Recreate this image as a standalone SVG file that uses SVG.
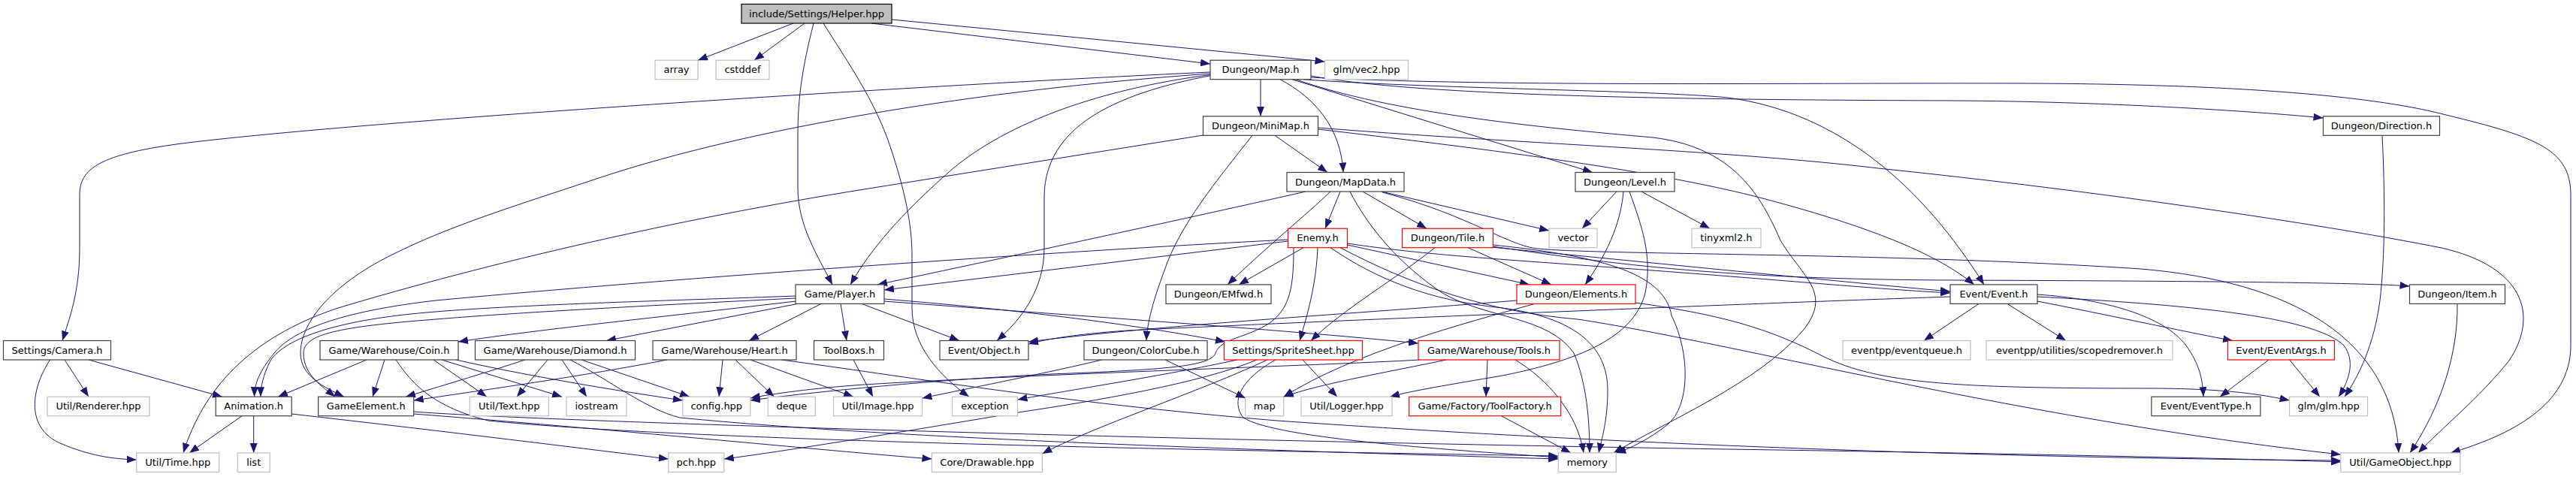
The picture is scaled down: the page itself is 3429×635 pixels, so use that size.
<svg xmlns="http://www.w3.org/2000/svg" width="3429" height="635" viewBox="0 0 3429 635">
<defs>
<marker id="a" viewBox="0 0 13 10" refX="13" refY="5" markerWidth="13" markerHeight="10" markerUnits="userSpaceOnUse" orient="auto"><path d="M0,0L13,5L0,10z" fill="#191970"/></marker>
<style>
.d rect{fill:#fff;stroke:#404040;stroke-width:1.2}
.x rect{fill:#fff;stroke:#bfbfbf;stroke-width:1.2}
.r rect{fill:#fff;stroke:#ff0000;stroke-width:1.2}
.h rect{fill:#bfbfbf;stroke:#000;stroke-width:1.2}
text{font-family:"DejaVu Sans","Liberation Sans",sans-serif;font-size:13px;text-anchor:middle;fill:#000}
#edges path{fill:none;stroke:#191970;stroke-width:1;marker-end:url(#a)}
</style>
</defs>
<rect width="3429" height="635" fill="#fff"/>
<g id="edges">
<path d="M1056,31 L929,80.2"/>
<path d="M1071,31 L1004,80.2"/>
<path d="M1160,31 L1611,85"/>
<path d="M1187,26 L1763.5,82"/>
<path d="M1083,31 C1068,90 1062,130 1062,180 L1062,250 C1062,300 1088,340 1108,378.9"/>
<path d="M1096,31 C1130,85 1165,135 1185,195 C1205,255 1214,300 1214,340 L1214,410 C1214,460 1250,500 1290,528.2"/>
<path d="M1611,96 C1200,115 500,160 250,190 C130,205 106,225 106,260 L106,330 C106,390 92,425 83,453.5"/>
<path d="M1611,98 C1300,120 1000,170 800,236 C680,276 600,300 520,340 C440,380 400,430 400,470 C400,500 430,515 458,528.2"/>
<path d="M1615,99 C1450,120 1330,170 1262,230 C1200,285 1160,330 1132,378.9"/>
<path d="M1615,100 C1480,125 1392,170 1390,260 L1390,330 C1390,385 1360,425 1327,453.5"/>
<path d="M1678,105.7 L1678,154.8"/>
<path d="M1704,105.7 C1750,130 1785,170 1788,229.5"/>
<path d="M1720,105.7 L2120,229.5"/>
<path d="M1735,105.7 C1900,118 2200,120 2300,130 C2450,150 2560,250 2641,378.9"/>
<path d="M1745,101 C1900,130 2300,133 2600,134 C2800,135 3000,148 3092.5,157"/>
<path d="M1745,103 C2000,116 2400,110 2700,111 C2950,112 3150,125 3256,153 C3380,183 3422,200 3422,260 L3422,460 C3422,540 3340,580 3262,602.9"/>
<path d="M1725,105.7 C1850,150 2050,170 2200,183 C2300,195 2340,250 2370,320 C2400,370 2440,390 2400,440 C2340,510 2220,560 2148,602.9"/>
<path d="M1601.5,180 L1150,252 C900,292 650,350 450,410 C330,450 270,520 244,602.9"/>
<path d="M1667,180.3 C1620,240 1570,300 1550,360 C1535,400 1527,430 1526,453.5"/>
<path d="M1697,180.3 L1767,229.5"/>
<path d="M1754.5,172 C1950,195 2200,225 2350,265 C2500,305 2580,340 2628,378.9"/>
<path d="M1754.5,170 C2000,190 2300,200 2500,224 C2800,255 3100,300 3250,330 C3360,355 3380,420 3340,480 C3300,530 3250,570 3219,602.9"/>
<path d="M3171,180.3 C3175,260 3175,340 3168,400 C3160,460 3140,500 3121,528.2"/>
<path d="M1738,255 C1650,275 1400,330 1168,378.9"/>
<path d="M1771,255 C1740,285 1690,325 1634,378.9"/>
<path d="M1784,255 L1764,304.2"/>
<path d="M1797,255 C1820,300 1860,350 1920,390 C1980,425 2060,420 2095,470 C2112,510 2116,560 2116,602.9"/>
<path d="M1814,255 L1899,304.2"/>
<path d="M1839,255 L2062,307"/>
<path d="M1840,256 C1950,285 2000,322 2040,330 C2100,340 2500,335 2850,358 C3050,375 3185,450 3193,602.9"/>
<path d="M2152,255 L2106,304.2"/>
<path d="M2161,255 C2158,290 2145,330 2110,378.9"/>
<path d="M2169,255 C2185,300 2200,340 2190,390 C2175,450 2100,480 2000,500 C1930,512 1880,520 1850,528.2"/>
<path d="M2185,255 L2276,304.2"/>
<path d="M1714.5,321 L1177,386"/>
<path d="M1714.5,319 C1400,335 900,370 580,400 C450,415 390,440 365,470 C345,495 339,510 338.5,528.2"/>
<path d="M1735,329.7 L1649,378.9"/>
<path d="M1793.5,324 C1900,340 2000,345 2200,360 C2400,375 2500,385 2596,390"/>
<path d="M1784,329.7 C1880,380 1980,415 2100,425 C2300,455 2700,560 3115.8,605"/>
<path d="M1793.5,326 L2036,378.9"/>
<path d="M1754,329.7 C1752,380 1740,420 1730,453.5"/>
<path d="M1771,329.7 C1830,370 1900,400 2000,410 C2110,425 2140,470 2140,520 C2140,560 2132,585 2128,602.9"/>
<path d="M1722,329.7 C1722,380 1718,410 1690,430 C1660,450 1625,450 1618,470 C1612,488 1550,492 1400,498 C1250,505 1080,522 998.8,533"/>
<path d="M1910,329.7 C1860,370 1790,410 1745,453.5"/>
<path d="M1954,329.7 L2065,378.9"/>
<path d="M1985,329 C2150,345 2450,375 2596,388"/>
<path d="M1987,328 C2150,352 2300,372 2600,373 C2900,374 3150,376 3207.5,381"/>
<path d="M1987.5,326 C2120,340 2215,360 2225,420 C2250,470 2250,540 2220,565 C2195,585 2170,597 2151.3,603"/>
<path d="M1059,401 C900,420 720,438 610,455"/>
<path d="M1062,404.4 L807,453.5"/>
<path d="M1093,404.4 L997,453.5"/>
<path d="M1119,404.4 L1127,453.5"/>
<path d="M1059,394 C900,400 700,405 580,415 C450,425 380,450 360,480 C350,500 347,515 347,528.2"/>
<path d="M1059,397 C900,405 700,415 580,425 C450,435 404,445 404,470 C404,500 430,515 446,528.2"/>
<path d="M1147,404.4 L1277,453.5"/>
<path d="M1177,398 C1350,412 1500,430 1631,455"/>
<path d="M1177,401 C1400,418 1700,438 1888,457"/>
<path d="M86,479 L118,528.2"/>
<path d="M118,479 L296,528.2"/>
<path d="M66.6,479 C40,520 35,570 80,590 C120,607 150,611 181.7,612"/>
<path d="M322,553.7 L252,602.9"/>
<path d="M337.7,553.7 L337.7,602.9"/>
<path d="M388,551 C600,575 800,600 889.8,611"/>
<path d="M488,479 L370,528.2"/>
<path d="M512,479 L496,528.2"/>
<path d="M577,479 L648,528.2"/>
<path d="M588,479 L748,528.2"/>
<path d="M607,479 C700,500 820,520 908.8,533"/>
<path d="M527,479 C545,505 570,540 650,560 C900,585 1500,598 2074.3,607"/>
<path d="M699,479 C650,495 600,510 540,528.2"/>
<path d="M729,479 L688,528.2"/>
<path d="M748,479 L781,528.2"/>
<path d="M774,479 L918,528.2"/>
<path d="M759,479 C810,505 860,545 905,556 C1200,585 1700,600 2074.3,611"/>
<path d="M888,479 C780,500 640,520 550.7,533"/>
<path d="M962,479 L957,528.2"/>
<path d="M979,479 L1030.5,528.2"/>
<path d="M999,479 L1136,528.2"/>
<path d="M1040,479 C1200,500 1400,535 1700,560 C2200,595 2700,610 3115.8,613"/>
<path d="M1136,479 L1162,528.2"/>
<path d="M1467,479 C1400,495 1300,515 1227.5,530"/>
<path d="M1551,479 L1658,530"/>
<path d="M1647,479 C1550,500 1420,520 1354.5,532"/>
<path d="M1673,479 C1600,510 1450,535 1362,548 C1200,575 1050,600 963.8,611"/>
<path d="M1687,479 C1600,520 1450,570 1387.4,604"/>
<path d="M1698,479 C1660,500 1635,530 1655,556 C1700,585 1950,600 2074.3,609"/>
<path d="M1734,479 L1780,528.2"/>
<path d="M1890,479 C1750,487 1400,497 1150,512 C1080,517 1030,524 998.8,530"/>
<path d="M1925,479 C1850,495 1760,510 1708.7,528.2"/>
<path d="M1980,479 L1978,528.2"/>
<path d="M2017,479 C2060,505 2100,550 2108,602.9"/>
<path d="M2043,404.4 C1950,430 1800,470 1708.7,528.2"/>
<path d="M2019,400 C1800,418 1550,432 1369,455"/>
<path d="M2177,403 C2300,420 2360,440 2428,475 C2500,510 2600,517 2860,517 C2960,517 3010,525 3047.6,533"/>
<path d="M2634,404.4 L2561,453.5"/>
<path d="M2672,404.4 L2750,453.5"/>
<path d="M2712,392 C2800,398 2880,420 2910,460 C2928,485 2932,505 2933,528.2"/>
<path d="M2712,395 C2900,405 3080,420 3120,460 C3135,480 3128,505 3113,528.2"/>
<path d="M2712,401 C2800,418 2900,440 2972,453.5"/>
<path d="M2596,395 C2300,405 1700,430 1500,440 C1430,445 1390,452 1369,458"/>
<path d="M3020,479 L2955,528.2"/>
<path d="M3047.6,479 L3088,528.2"/>
<path d="M3271,404.4 C3272,470 3250,540 3208,602.9"/>
<path d="M1998.5,553.7 L2091,602.9"/>
<path d="M550.7,548 C700,560 1500,585 2300,598 C2700,604 3000,611 3115.8,615"/>
<path d="M550.7,551 C800,570 1100,600 1240.4,611"/>
</g>
<g id="n0" class="h"><rect x="987" y="5.5" width="200" height="25.5"/><text x="1087" y="22.5">include/Settings/Helper.hpp</text></g>
<g id="n1" class="x"><rect x="872" y="80.2" width="57" height="25.5"/><text x="900.5" y="97.2">array</text></g>
<g id="n2" class="x"><rect x="953" y="80.2" width="71" height="25.5"/><text x="988.5" y="97.2">cstddef</text></g>
<g id="n3" class="d"><rect x="1611" y="80.2" width="134" height="25.5"/><text x="1678" y="97.2">Dungeon/Map.h</text></g>
<g id="n4" class="x"><rect x="1763.5" y="80.2" width="111" height="25.5"/><text x="1819" y="97.2">glm/vec2.hpp</text></g>
<g id="n5" class="d"><rect x="1601.5" y="154.8" width="153" height="25.5"/><text x="1678" y="171.8">Dungeon/MiniMap.h</text></g>
<g id="n6" class="d"><rect x="3092.5" y="154.8" width="155" height="25.5"/><text x="3170" y="171.8">Dungeon/Direction.h</text></g>
<g id="n7" class="d"><rect x="1713" y="229.5" width="156" height="25.5"/><text x="1791" y="246.5">Dungeon/MapData.h</text></g>
<g id="n8" class="d"><rect x="2097" y="229.5" width="132" height="25.5"/><text x="2163" y="246.5">Dungeon/Level.h</text></g>
<g id="n9" class="r"><rect x="1714.5" y="304.2" width="79" height="25.5"/><text x="1754" y="321.2">Enemy.h</text></g>
<g id="n10" class="r"><rect x="1866.5" y="304.2" width="121" height="25.5"/><text x="1927" y="321.2">Dungeon/Tile.h</text></g>
<g id="n11" class="x"><rect x="2062" y="304.2" width="64" height="25.5"/><text x="2094" y="321.2">vector</text></g>
<g id="n12" class="x"><rect x="2252" y="304.2" width="92" height="25.5"/><text x="2298" y="321.2">tinyxml2.h</text></g>
<g id="n13" class="d"><rect x="1059" y="378.9" width="118" height="25.5"/><text x="1118" y="395.9">Game/Player.h</text></g>
<g id="n14" class="d"><rect x="1552" y="378.9" width="140" height="25.5"/><text x="1622" y="395.9">Dungeon/EMfwd.h</text></g>
<g id="n15" class="r"><rect x="2019" y="378.9" width="158" height="25.5"/><text x="2098" y="395.9">Dungeon/Elements.h</text></g>
<g id="n16" class="d"><rect x="2596" y="378.9" width="116" height="25.5"/><text x="2654" y="395.9">Event/Event.h</text></g>
<g id="n17" class="d"><rect x="3207.5" y="378.9" width="127" height="25.5"/><text x="3271" y="395.9">Dungeon/Item.h</text></g>
<g id="n18" class="d"><rect x="4.5" y="453.5" width="143" height="25.5"/><text x="76" y="470.5">Settings/Camera.h</text></g>
<g id="n19" class="d"><rect x="426" y="453.5" width="184" height="25.5"/><text x="518" y="470.5">Game/Warehouse/Coin.h</text></g>
<g id="n20" class="d"><rect x="632.5" y="453.5" width="213" height="25.5"/><text x="739" y="470.5">Game/Warehouse/Diamond.h</text></g>
<g id="n21" class="d"><rect x="869" y="453.5" width="191" height="25.5"/><text x="964.5" y="470.5">Game/Warehouse/Heart.h</text></g>
<g id="n22" class="d"><rect x="1083.5" y="453.5" width="93" height="25.5"/><text x="1130" y="470.5">ToolBoxs.h</text></g>
<g id="n23" class="d"><rect x="1251" y="453.5" width="118" height="25.5"/><text x="1310" y="470.5">Event/Object.h</text></g>
<g id="n24" class="d"><rect x="1443" y="453.5" width="164" height="25.5"/><text x="1525" y="470.5">Dungeon/ColorCube.h</text></g>
<g id="n25" class="r"><rect x="1629.5" y="453.5" width="184" height="25.5"/><text x="1721.5" y="470.5">Settings/SpriteSheet.hpp</text></g>
<g id="n26" class="r"><rect x="1888" y="453.5" width="188" height="25.5"/><text x="1982" y="470.5">Game/Warehouse/Tools.h</text></g>
<g id="n27" class="x"><rect x="2453" y="453.5" width="170" height="25.5"/><text x="2538" y="470.5">eventpp/eventqueue.h</text></g>
<g id="n28" class="x"><rect x="2644" y="453.5" width="248" height="25.5"/><text x="2768" y="470.5">eventpp/utilities/scopedremover.h</text></g>
<g id="n29" class="r"><rect x="2965.5" y="453.5" width="142" height="25.5"/><text x="3036.5" y="470.5">Event/EventArgs.h</text></g>
<g id="n30" class="x"><rect x="63" y="528.2" width="136" height="25.5"/><text x="131" y="545.2">Util/Renderer.hpp</text></g>
<g id="n31" class="d"><rect x="287.2" y="528.2" width="101" height="25.5"/><text x="337.7" y="545.2">Animation.h</text></g>
<g id="n32" class="d"><rect x="423.7" y="528.2" width="127" height="25.5"/><text x="487.2" y="545.2">GameElement.h</text></g>
<g id="n33" class="x"><rect x="625.3" y="528.2" width="105" height="25.5"/><text x="677.8" y="545.2">Util/Text.hpp</text></g>
<g id="n34" class="x"><rect x="754" y="528.2" width="80" height="25.5"/><text x="794" y="545.2">iostream</text></g>
<g id="n35" class="x"><rect x="908.8" y="528.2" width="90" height="25.5"/><text x="953.8" y="545.2">config.hpp</text></g>
<g id="n36" class="x"><rect x="1022.3" y="528.2" width="63" height="25.5"/><text x="1053.8" y="545.2">deque</text></g>
<g id="n37" class="x"><rect x="1109.5" y="528.2" width="118" height="25.5"/><text x="1168.5" y="545.2">Util/Image.hpp</text></g>
<g id="n38" class="x"><rect x="1267.5" y="528.2" width="87" height="25.5"/><text x="1311" y="545.2">exception</text></g>
<g id="n39" class="x"><rect x="1657.7" y="528.2" width="51" height="25.5"/><text x="1683.2" y="545.2">map</text></g>
<g id="n40" class="x"><rect x="1732" y="528.2" width="121" height="25.5"/><text x="1792.5" y="545.2">Util/Logger.hpp</text></g>
<g id="n41" class="r"><rect x="1875.7" y="528.2" width="202" height="25.5"/><text x="1976.7" y="545.2">Game/Factory/ToolFactory.h</text></g>
<g id="n42" class="d"><rect x="2863.9" y="528.2" width="145" height="25.5"/><text x="2936.4" y="545.2">Event/EventType.h</text></g>
<g id="n43" class="x"><rect x="3047.6" y="528.2" width="104" height="25.5"/><text x="3099.6" y="545.2">glm/glm.hpp</text></g>
<g id="n44" class="x"><rect x="181.7" y="602.9" width="110" height="25.5"/><text x="236.7" y="619.9">Util/Time.hpp</text></g>
<g id="n45" class="x"><rect x="316.2" y="602.9" width="43" height="25.5"/><text x="337.7" y="619.9">list</text></g>
<g id="n46" class="x"><rect x="889.8" y="602.9" width="74" height="25.5"/><text x="926.8" y="619.9">pch.hpp</text></g>
<g id="n47" class="x"><rect x="1240.4" y="602.9" width="147" height="25.5"/><text x="1313.9" y="619.9">Core/Drawable.hpp</text></g>
<g id="n48" class="x"><rect x="2074.3" y="602.9" width="77" height="25.5"/><text x="2112.8" y="619.9">memory</text></g>
<g id="n49" class="x"><rect x="3115.8" y="602.9" width="159" height="25.5"/><text x="3195.3" y="619.9">Util/GameObject.hpp</text></g>
</svg>
